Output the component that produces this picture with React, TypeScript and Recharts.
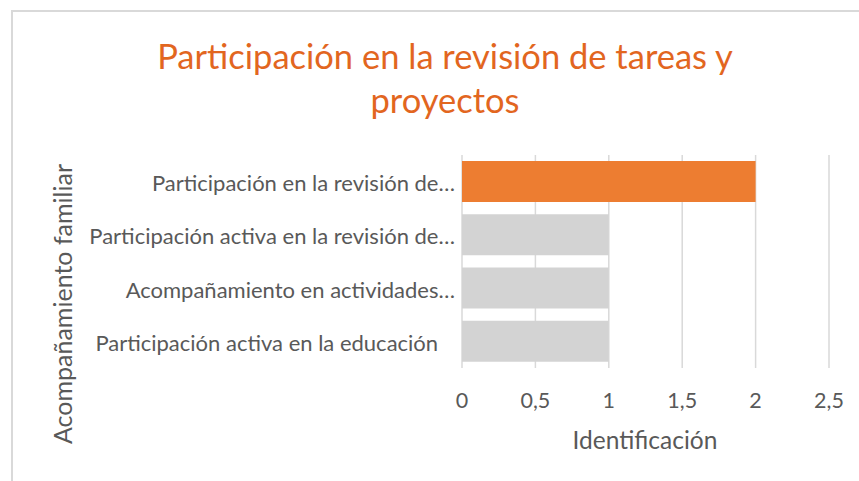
import React from 'react';
import { BarChart, Bar, XAxis, YAxis, CartesianGrid, Cell } from 'recharts';

const categories = [
  'Participación en la revisión de…',
  'Participación activa en la revisión de…',
  'Acompañamiento en actividades…',
  'Participación activa en la educación   ',
];
const values = [2, 1, 1, 1];
const xTicks = [0, 0.5, 1, 1.5, 2, 2.5];

const barColors = ['#ED7D31', '#D3D3D3', '#D3D3D3', '#D3D3D3'];
const FONT = 'Lato, "Open Sans", sans-serif';

const data = categories.map((name, i) => ({ name, value: values[i] }));

const XTick = (props: any) => {
  const { x, y, payload } = props;
  return (
    <text x={x} y={y + 32} textAnchor="middle" dominantBaseline="central"
      fontSize={21.5} fill="#595959" fontFamily={FONT}>
      {String(payload.value).replace('.', ',')}
    </text>
  );
};

const YTick = (props: any) => {
  const { x, y, payload } = props;
  return (
    <text x={x - 7} y={y + 1} textAnchor="end" dominantBaseline="central"
      fontSize={22} fill="#595959" fontFamily={FONT} style={{ whiteSpace: 'pre' }}>
      {payload.value}
    </text>
  );
};

const App: React.FC = () => {
  return (
    <div style={{ position: 'absolute', left: 0, top: 0, width: 859, height: 481, background: '#fff', overflow: 'hidden' }}>
      <div style={{
        position: 'absolute', left: 11, top: 10, width: 870, height: 490,
        border: '2px solid #D9D9D9', boxSizing: 'border-box'
      }} />
      <div style={{
        position: 'absolute', left: 8, top: 34, width: 874, textAlign: 'center',
        fontFamily: FONT, fontSize: 34.5, lineHeight: '44px', color: '#E2661F'
      }}>
        Participación en la revisión de tareas y<br />proyectos
      </div>
      <BarChart
        width={859}
        height={481}
        data={data}
        layout="vertical"
        barCategoryGap="11.5%"
        margin={{ top: 155, right: 30, bottom: 53, left: 12 }}
        style={{ position: 'absolute', left: 0, top: 0 }}
      >
        <CartesianGrid horizontal={false} stroke="#D9D9D9" strokeWidth={1.5} />
        <XAxis
          type="number"
          domain={[0, 2.5]}
          ticks={xTicks}
          height={60}
          axisLine={false}
          tickLine={false}
          tickSize={0}
          tickMargin={0}
          tick={<XTick />}
          label={{
            content: () => (
              <text x={645} y={439} textAnchor="middle" dominantBaseline="central"
                fontSize={24.5} fill="#595959" fontFamily={FONT}>
                Identificación
              </text>
            ),
          }}
        />
        <YAxis
          type="category"
          dataKey="name"
          width={450}
          axisLine={false}
          tickLine={false}
          tickSize={0}
          tickMargin={0}
          tick={<YTick />}
          label={{
            content: () => (
              <text x={62} y={304} transform="rotate(-90 62 304)" textAnchor="middle"
                dominantBaseline="central" fontSize={25} fill="#595959" fontFamily={FONT}>
                Acompañamiento familiar
              </text>
            ),
          }}
        />
        <Bar dataKey="value" isAnimationActive={false}>
          {data.map((d, i) => (
            <Cell key={d.name} fill={barColors[i]} />
          ))}
        </Bar>
      </BarChart>
    </div>
  );
};

export default App;
